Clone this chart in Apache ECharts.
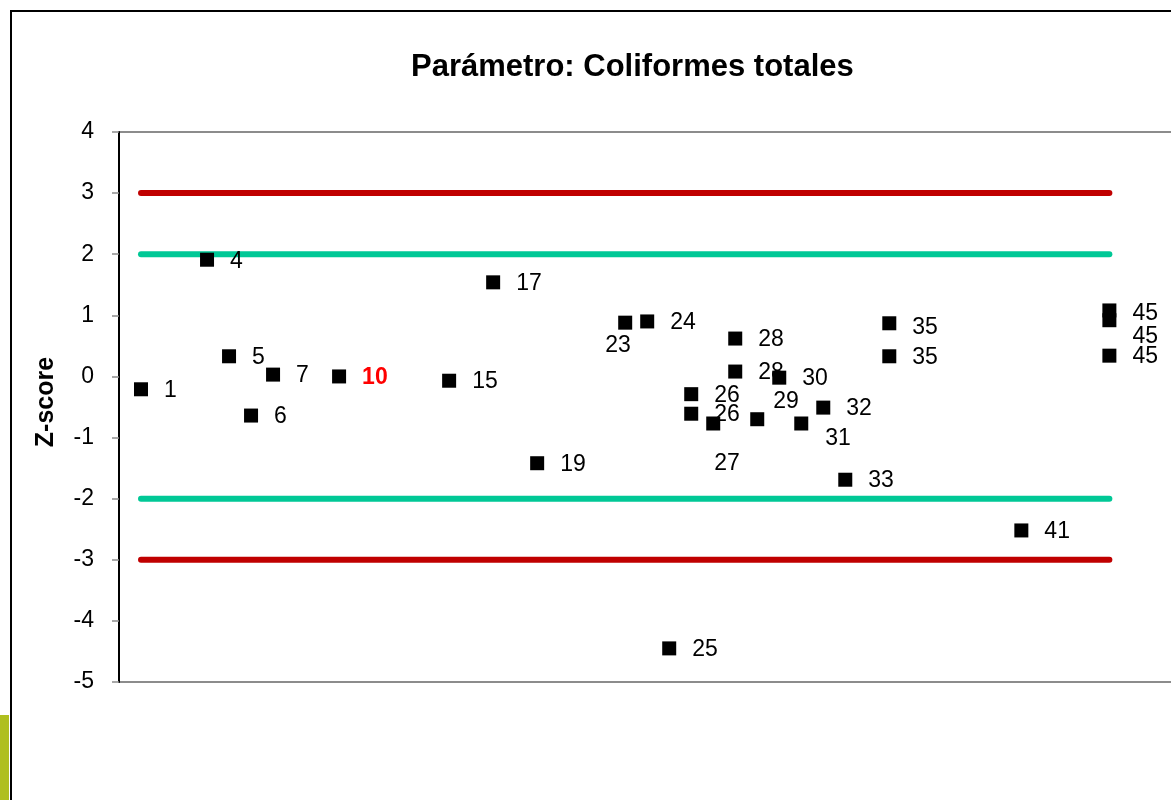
<!DOCTYPE html>
<html>
<head>
<meta charset="utf-8">
<script src="https://cdn.jsdelivr.net/npm/echarts@6/dist/echarts.min.js"></script>
<style>
html,body{margin:0;padding:0;background:#fff;}
#chart{width:1171px;height:800px;}
</style>
</head>
<body>
<div id="chart"></div>
<script>
// ---- data ----
var labs = [1, 4, 5, 6, 7, 10, 15, 17, 19, 23, 24, 25, 26, 26, 27, 28, 28, 29, 30, 31, 32, 33, 35, 35, 41, 45, 45, 45];
var zScores = [-0.21, 1.91, 0.33, -0.64, 0.03, 0.00, -0.07, 1.54, -1.42, 0.88, 0.90, -4.45, -0.29, -0.61, -0.77, 0.62, 0.08, -0.70, -0.02, -0.77, -0.51, -1.69, 0.87, 0.33, -2.52, 1.08, 0.92, 0.34];
var highlightLab = 10;
var limitX = [1, 45];
var actionLimits = [3, -3];
var warningLimits = [2, -2];
var yTicks = [-5, -4, -3, -2, -1, 0, 1, 2, 3, 4];
var titleText = 'Parámetro: Coliformes totales';
var yAxisName = 'Z-score';

// label nudges (index in arrays -> [dx, dy])
var labelNudge = {1: [0, 2], 9: [-43, 23], 14: [-22, 40], 17: [-7, -18], 19: [1, 15], 25: [0, 3], 26: [0, 16], 22: [0, 4]};

var FONT = '"Liberation Sans", Arial, sans-serif';

var scatterData = labs.map(function (lab, i) {
  var item = {value: [lab, zScores[i]]};
  var nudge = labelNudge[i] || [0, 1];
  var lbl = {offset: nudge};
  if (lab === highlightLab) {
    lbl.color = '#ff0000';
    lbl.fontWeight = 'bold';
  }
  item.label = lbl;
  return item;
});

function hLine(y, color) {
  return {
    type: 'line',
    data: [[limitX[0], y], [limitX[1], y]],
    symbol: 'none',
    silent: true,
    z: 1,
    lineStyle: {color: color, width: 6, cap: 'round'}
  };
}

var frameAxis = function (pos) {
  return {
    type: 'value', min: 0, max: 47.8, position: pos,
    axisLine: {show: true, onZero: false, lineStyle: {color: '#8c8c8c', width: 2}},
    axisTick: {show: false}, axisLabel: {show: false}, splitLine: {show: false}
  };
};

var chart = echarts.init(document.getElementById('chart'));
chart.setOption({
  backgroundColor: '#ffffff',
  animation: false,
  title: {
    text: titleText,
    left: 406,
    top: 47,
    textStyle: {fontFamily: FONT, fontSize: 31, fontWeight: 'bold', color: '#000'}
  },
  graphic: [
    {type: 'rect', shape: {x: 11, y: 11, width: 2000, height: 2000}, style: {fill: 'none', stroke: '#000', lineWidth: 2}, z: 0},
    {type: 'rect', shape: {x: 0, y: 715, width: 9, height: 90}, style: {fill: '#afbf1f'}, z: 0}
  ],
  grid: {
    left: 119, top: 132, width: 1052, height: 550, show: false
  },
  xAxis: [frameAxis('bottom'), frameAxis('top')],
  yAxis: {
    type: 'value', min: yTicks[0], max: yTicks[yTicks.length - 1], interval: 1,
    name: yAxisName,
    nameLocation: 'middle',
    nameRotate: 90,
    nameGap: 60,
    nameTextStyle: {fontFamily: FONT, fontSize: 25, fontWeight: 'bold', color: '#000', padding: [0, 0, 0, 10]},
    axisLine: {show: true, lineStyle: {color: '#000', width: 2}},
    axisTick: {show: true, length: 7, lineStyle: {color: '#8c8c8c', width: 1.5}},
    axisLabel: {fontFamily: FONT, fontSize: 23, color: '#000', margin: 25},
    splitLine: {show: false},
    z: 3
  },
  series: [
    hLine(actionLimits[0], '#c00000'),
    hLine(actionLimits[1], '#c00000'),
    hLine(warningLimits[0], '#00c896'),
    hLine(warningLimits[1], '#00c896'),
    {
      type: 'scatter',
      symbol: 'rect',
      symbolSize: 14,
      z: 5,
      itemStyle: {color: '#000', opacity: 1},
      label: {
        show: true,
        position: 'right',
        distance: 16,
        fontFamily: FONT,
        fontSize: 23,
        color: '#000',
        formatter: function (p) { return String(p.value[0]); }
      },
      emphasis: {disabled: true},
      data: scatterData
    }
  ]
});
</script>
</body>
</html>
